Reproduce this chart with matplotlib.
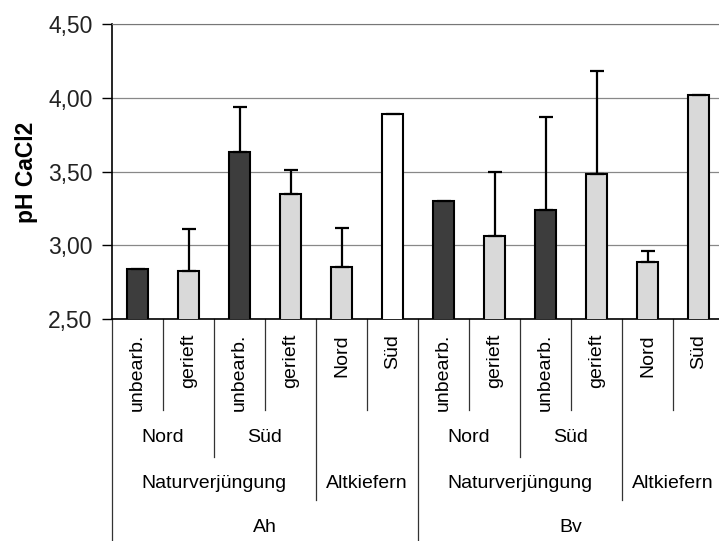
import numpy as np
import matplotlib
matplotlib.use("Agg")
import matplotlib.pyplot as plt
import matplotlib.transforms as mtransforms

plt.rcParams['font.family'] = ['Liberation Sans', 'DejaVu Sans']

# data
treat = ['unbearb.', 'gerieft', 'unbearb.', 'gerieft', 'Nord', 'Süd',
         'unbearb.', 'gerieft', 'unbearb.', 'gerieft', 'Nord', 'Süd']
ph = [2.84, 2.825, 3.63, 3.35, 2.85, 3.89,
      3.30, 3.065, 3.24, 3.48, 2.885, 4.02]
sd = [np.nan, 0.285, 0.305, 0.16, 0.27, np.nan,
      np.nan, 0.435, 0.63, 0.70, 0.075, np.nan]
kind = ['dark', 'light', 'dark', 'light', 'light', 'white',
        'dark', 'light', 'dark', 'light', 'light', 'light']
exposure = [('Nord', 0.5), ('Süd', 2.5), ('Nord', 6.5), ('Süd', 8.5)]
stand = [('Naturverjüngung', 1.5), ('Altkiefern', 4.5),
         ('Naturverjüngung', 7.5), ('Altkiefern', 10.5)]
horizon = [('Ah', 2.5), ('Bv', 8.5)]
yticks = [2.5, 3.0, 3.5, 4.0, 4.5]
ytick_labels = ['2,50', '3,00', '3,50', '4,00', '4,50']

fill = {'dark': '#3d3d3d', 'light': '#d9d9d9', 'white': '#ffffff'}

W, H = 719, 541
fig = plt.figure(figsize=(W / 100, H / 100), dpi=100)
ax = fig.add_axes([112 / W, 1 - 319 / H, 612 / W, 295 / H])

x = np.arange(len(ph))
ax.bar(x, ph, width=0.43, color=[fill[k] for k in kind],
       edgecolor='black', linewidth=1.5, zorder=3)
err = np.array(sd)
ax.errorbar(x, ph, yerr=[np.zeros_like(err), err], fmt='none',
            ecolor='black', elinewidth=1.6, capsize=5, capthick=1.6, zorder=4)

ax.set_xlim(-0.5, 11.5)
ax.set_ylim(2.5, 4.5)
ax.set_yticks(yticks)
ax.set_yticklabels(ytick_labels, fontsize=16.5, color='#222222')
ax.tick_params(axis='y', length=7, width=1, pad=7)
ax.set_xticks([])
ax.yaxis.grid(True, color='#888888', linewidth=0.9)
ax.set_axisbelow(True)
ax.spines['right'].set_visible(False)
ax.spines['top'].set_color('#777777')
ax.spines['left'].set_linewidth(1.2)
ax.spines['bottom'].set_linewidth(1.2)

fig.text(27 / W, 1 - 172 / H, 'pH CaCl2', rotation=90, ha='center',
         va='center', fontsize=16.5, fontweight='bold')

# hierarchical category axis below the plot
tr = mtransforms.blended_transform_factory(ax.transData, fig.transFigure)


def fy(py):
    return 1 - py / H


seps = [(-0.5, 541), (0.5, 410), (1.5, 457), (2.5, 410), (3.5, 500),
        (4.5, 410), (5.5, 541), (6.5, 410), (7.5, 457), (8.5, 410),
        (9.5, 500), (10.5, 410)]
for sx, depth in seps:
    ax.plot([sx, sx], [fy(319), fy(depth)], transform=tr, color='#333333',
            linewidth=0.9, clip_on=False)

for i, t in enumerate(treat):
    ax.text(i, fy(334), t, transform=tr, rotation=90, ha='center', va='top',
            fontsize=14)
for t, px in exposure:
    ax.text(px, fy(438), t, transform=tr, ha='center', va='center', fontsize=14)
for t, px in stand:
    ax.text(px, fy(484), t, transform=tr, ha='center', va='center', fontsize=14)
for t, px in horizon:
    ax.text(px, fy(528), t, transform=tr, ha='center', va='center', fontsize=14)

fig.savefig('out.png', dpi=100)
